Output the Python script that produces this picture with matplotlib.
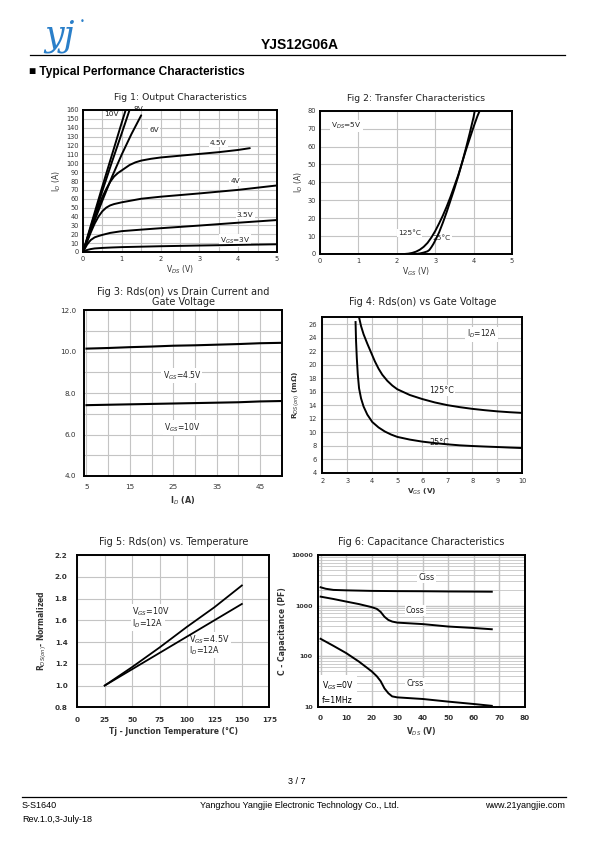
import matplotlib
matplotlib.use('Agg')
import matplotlib.pyplot as plt
import numpy as np

# ---------------- data ----------------
# Fig 1: output characteristics (VDS [V], ID [A])
f1_10v_x = [0, 0.25, 0.5, 0.75, 1.0, 1.1]
f1_10v_y = [0, 37, 74, 110, 146, 160]
f1_8v_x = [0, 0.25, 0.5, 0.75, 1.0, 1.2]
f1_8v_y = [0, 35, 69, 102, 134, 160]
f1_6v_x = [0, 0.25, 0.5, 0.75, 1.0, 1.25, 1.5]
f1_6v_y = [0, 30, 58, 85, 110, 133, 154]
f1_45v_x = [0, 0.1, 0.2, 0.3, 0.4, 0.5, 0.6, 0.7, 0.8, 0.9, 1.0, 1.1, 1.2, 1.35, 1.5, 1.75, 2, 2.5, 3, 3.5, 4, 4.3]
f1_45v_y = [0, 13, 26, 39, 51, 62, 71, 79, 85, 89, 92, 95, 98, 101, 103, 105, 106.5, 108.5, 110.5, 112.5, 115, 117]
f1_4v_x = [0, 0.1, 0.2, 0.3, 0.4, 0.5, 0.6, 0.7, 0.8, 1.0, 1.25, 1.5, 2, 3, 4, 5]
f1_4v_y = [0, 11, 22, 32, 40, 46, 50, 52.5, 54, 56, 58, 60, 62.3, 66, 70, 75]
f1_35v_x = [0, 0.05, 0.1, 0.15, 0.2, 0.3, 0.4, 0.5, 0.7, 1.0, 1.5, 2, 3, 4, 5]
f1_35v_y = [0, 4, 8, 11, 13.5, 16.5, 18, 19.3, 21.5, 23.5, 25.2, 26.8, 29.8, 33, 36]
f1_3v_x = [0, 0.05, 0.1, 0.2, 0.3, 0.5, 0.75, 1, 1.5, 2, 3, 4, 5]
f1_3v_y = [0, 1.2, 2.2, 3.3, 4, 4.6, 5.1, 5.5, 6, 6.5, 7.3, 8, 8.7]

# Fig 2: transfer characteristics (VGS [V], ID [A])
f2_125_x = [0.25, 2.2, 2.3, 2.4, 2.5, 2.6, 2.7, 2.8, 2.9, 3.0, 3.1, 3.2, 3.3, 3.4, 3.5, 3.6, 3.7, 3.8, 3.9, 4.0, 4.1, 4.16]
f2_125_y = [0, 0, 0.2, 0.6, 1.3, 2.4, 4, 6.2, 9.2, 12.8, 17, 21.5, 26.5, 32, 38, 44, 51, 58, 64.5, 71, 77, 80]
f2_25_x = [0.25, 2.5, 2.6, 2.7, 2.8, 2.85, 2.9, 2.95, 3.0, 3.1, 3.2, 3.3, 3.4, 3.5, 3.6, 3.7, 3.8, 3.9, 4.0, 4.03]
f2_25_y = [0, 0, 0.3, 0.8, 1.5, 2.3, 3.8, 5.5, 7.5, 12, 17.5, 23.5, 30, 36.5, 43.5, 51, 59, 67.5, 76.5, 80]

# Fig 3: Rds(on) vs ID (ID [A], mOhm)
f3_id = [5, 10, 15, 20, 25, 30, 35, 40, 45, 50]
f3_45v = [10.15, 10.18, 10.22, 10.25, 10.29, 10.31, 10.34, 10.37, 10.41, 10.43]
f3_10v = [7.42, 7.44, 7.46, 7.48, 7.50, 7.52, 7.54, 7.56, 7.60, 7.62]

# Fig 4: Rds(on) vs VGS (VGS [V], mOhm)
f4_125_x = [3.47, 3.55, 3.65, 3.8, 3.95, 4.1, 4.25, 4.4, 4.6, 4.8, 5.0, 5.5, 6.0, 6.5, 7.0, 7.5, 8.0, 8.5, 9.0, 9.5, 10]
f4_125_y = [27, 25.7, 24.5, 23.1, 21.8, 20.5, 19.4, 18.5, 17.6, 16.9, 16.35, 15.5, 14.9, 14.4, 14.0, 13.7, 13.45, 13.25, 13.08, 12.95, 12.85]
f4_25_x = [3.33, 3.35, 3.38, 3.42, 3.47, 3.55, 3.65, 3.8, 4.0, 4.25, 4.5, 4.75, 5.0, 5.5, 6.0, 6.5, 7.0, 7.5, 8.0, 8.5, 9.0, 9.5, 10]
f4_25_y = [26.3, 23.5, 21, 18.5, 16.5, 15.0, 13.8, 12.6, 11.5, 10.7, 10.1, 9.65, 9.3, 8.9, 8.6, 8.38, 8.2, 8.05, 7.95, 7.87, 7.8, 7.72, 7.65]

# Fig 5: normalized Rds(on) vs Tj
f5_tj = [25, 50, 75, 100, 125, 150]
f5_10v = [1.0, 1.17, 1.35, 1.54, 1.72, 1.92]
f5_45v = [1.0, 1.15, 1.30, 1.45, 1.60, 1.75]

# Fig 6: capacitance vs VDS (pF)
f6_vds_ciss = [0, 2, 5, 10, 20, 30, 40, 50, 60, 67]
f6_ciss = [2300, 2150, 2040, 2000, 1950, 1930, 1920, 1900, 1890, 1880]
f6_vds_coss = [0, 5, 10, 15, 20, 22, 23.5, 25, 26.5, 28, 30, 40, 50, 60, 67]
f6_coss = [1500, 1350, 1200, 1070, 930, 860, 750, 600, 520, 483, 460, 430, 385, 360, 340]
f6_vds_crss = [0, 5, 10, 15, 20, 22, 23.5, 25, 26.5, 28, 30, 40, 50, 60, 67]
f6_crss = [220, 160, 115, 78, 50, 40, 32, 23, 18.5, 16, 15.3, 14.2, 12.6, 11.3, 10.4]

# ---------------- figure ----------------
W, H = 595, 842
fig = plt.figure(figsize=(W / 100, H / 100), dpi=100)
plt.rcParams['font.family'] = ['DejaVu Sans']
plt.rcParams['mathtext.fontset'] = 'dejavusans'

GRID = '#c4c4c4'
TXT = '#333333'


def ax_at(l, t, r, b):
    a = fig.add_axes([l / W, 1 - b / H, (r - l) / W, (b - t) / H])
    for s in a.spines.values():
        s.set_linewidth(1.4)
        s.set_color('black')
    a.tick_params(length=0, pad=3, colors=TXT)
    a.set_axisbelow(True)
    return a


def lbl(a, x, y, s, fs=5.5, ha='center', bg=True, **kw):
    bb = dict(facecolor='white', edgecolor='none', pad=0.8) if bg else None
    a.text(x, y, s, fontsize=fs, ha=ha, va='center', color='#222222', bbox=bb,
           zorder=1.5, **kw)


def ftext(x, y, s, **kw):
    fig.text(x / W, 1 - y / H, s, **kw)

# ---- header ----
ftext(44, 36, 'yj', fontsize=25, color='#2a7fc9', family='DejaVu Serif',
      style='italic', va='center')
ftext(80, 21, '•', fontsize=6, color='#2a7fc9', va='center')
ftext(300, 45, 'YJS12G06A', fontsize=10, weight='bold', family='Liberation Sans', ha='center', va='center')
fig.add_artist(plt.Line2D([30 / W, 565 / W], [1 - 55 / H, 1 - 55 / H], color='black', lw=0.9))
ftext(29, 72, '■ Typical Performance Characteristics', fontsize=8.6, weight='bold',
      family='Liberation Sans', va='center')

# ---- footer ----
ftext(297, 781, '3 / 7', fontsize=6.5, family='Liberation Sans', ha='center', va='center')
fig.add_artist(plt.Line2D([22 / W, 566 / W], [1 - 797 / H, 1 - 797 / H], color='black', lw=0.9))
ftext(22, 806, 'S-S1640', fontsize=6.5, family='Liberation Sans', va='center')
ftext(22, 819, 'Rev.1.0,3-July-18', fontsize=6.5, family='Liberation Sans', va='center')
ftext(300, 806, 'Yangzhou Yangjie Electronic Technology Co., Ltd.', fontsize=6.5,
      family='Liberation Sans', ha='center', va='center')
ftext(565, 806, 'www.21yangjie.com', fontsize=6.5, family='Liberation Sans', ha='right', va='center')

# ---- Fig 1 ----
a1 = ax_at(83, 110, 277, 252)
for xs, ys in [(f1_10v_x, f1_10v_y), (f1_8v_x, f1_8v_y), (f1_6v_x, f1_6v_y),
               (f1_45v_x, f1_45v_y), (f1_4v_x, f1_4v_y), (f1_35v_x, f1_35v_y), (f1_3v_x, f1_3v_y)]:
    a1.plot(xs, ys, color='black', lw=1.4, solid_capstyle='round')
a1.set_xlim(0, 5)
a1.set_ylim(0, 160)
a1.set_xticks(range(0, 6))
a1.set_yticks(range(0, 161, 10))
a1.set_xticks(np.arange(0, 5.01, 0.5), minor=True)
a1.grid(True, which='both', color=GRID, lw=0.8)
a1.tick_params(labelsize=4.8)
a1.tick_params(which='minor', length=0)
a1.set_xlabel('V$_{DS}$ (V)', fontsize=5.5, labelpad=1, color=TXT)
a1.set_ylabel('I$_{D}$ (A)', fontsize=5.5, labelpad=2, color=TXT)
a1.set_title('Fig 1: Output Characteristics', fontsize=6.7, pad=7, color='#222222')
lbl(a1, 0.73, 155, '10V', fs=5.3)
lbl(a1, 1.42, 161, '8V', fs=5.3, bg=False, clip_on=False)
lbl(a1, 1.84, 137.5, '6V', fs=5.3)
lbl(a1, 3.49, 122.5, '4.5V', fs=5.3)
lbl(a1, 3.92, 79.5, '4V', fs=5.3)
lbl(a1, 4.18, 42, '3.5V', fs=5.3)
lbl(a1, 3.92, 13, 'V$_{GS}$=3V', fs=5.3)

# ---- Fig 2 ----
a2 = ax_at(320, 110.7, 512, 254)
a2.plot(f2_125_x, f2_125_y, color='black', lw=1.4)
a2.plot(f2_25_x, f2_25_y, color='black', lw=1.4)
a2.set_xlim(0, 5)
a2.set_ylim(0, 80)
a2.set_xticks(range(0, 6))
a2.set_yticks(range(0, 81, 10))
a2.grid(True, color=GRID, lw=0.8)
a2.tick_params(labelsize=4.8)
a2.set_xlabel('V$_{GS}$ (V)', fontsize=5.5, labelpad=1, color=TXT)
a2.set_ylabel('I$_{D}$ (A)', fontsize=5.5, labelpad=2, color=TXT)
a2.set_title('Fig 2: Transfer Characteristics', fontsize=6.7, pad=7, color='#222222')
lbl(a2, 0.69, 71.3, 'V$_{DS}$=5V', fs=5.3)
lbl(a2, 2.34, 11.7, '125°C', fs=5.3)
lbl(a2, 3.16, 8.9, '25°C', fs=5.3)

# ---- Fig 3 ----
a3 = ax_at(84.3, 310.3, 281.7, 476)
a3.plot(f3_id, f3_45v, color='black', lw=1.5)
a3.plot(f3_id, f3_10v, color='black', lw=1.5)
a3.set_xlim(4.5, 50)
a3.set_ylim(4, 12)
a3.set_xticks([5, 15, 25, 35, 45])
a3.set_xticks(range(10, 50, 10), minor=True)
a3.set_yticks([4, 6, 8, 10, 12])
a3.set_yticklabels(['4.0', '6.0', '8.0', '10.0', '12.0'])
a3.set_yticks(range(5, 12, 2), minor=True)
a3.grid(True, which='both', color=GRID, lw=0.8)
a3.tick_params(labelsize=5.2, pad=6)
a3.tick_params(which='minor', length=0)
a3.set_xlabel('I$_{D}$ (A)', fontsize=5.8, labelpad=3, color=TXT, weight='bold')
a3.set_title('Fig 3: Rds(on) vs Drain Current and\nGate Voltage', fontsize=7, pad=4,
             color='#222222', linespacing=1.0)
lbl(a3, 27, 8.86, 'V$_{GS}$=4.5V', fs=5.5)
lbl(a3, 27, 6.33, 'V$_{GS}$=10V', fs=5.5)

# ---- Fig 4 ----
a4 = ax_at(322.3, 317.3, 522.3, 472.7)
a4.plot(f4_125_x, f4_125_y, color='black', lw=1.4)
a4.plot(f4_25_x, f4_25_y, color='black', lw=1.4)
a4.set_xlim(2, 10)
a4.set_ylim(4, 27)
a4.set_xticks(range(2, 11))
a4.set_yticks(range(4, 27, 2))
a4.grid(True, color=GRID, lw=0.8)
a4.tick_params(labelsize=4.8, pad=4)
a4.set_xlabel('V$_{GS}$ (V)', fontsize=5.3, labelpad=2, color=TXT, weight='bold')
a4.set_ylabel('R$_{DS(on)}$ (mΩ)', fontsize=5.3, labelpad=5, color=TXT, weight='bold')
a4.set_title('Fig 4: Rds(on) vs Gate Voltage', fontsize=7, pad=9, color='#222222')
lbl(a4, 8.37, 24.5, 'I$_{D}$=12A', fs=5.5)
lbl(a4, 6.77, 16.2, '125°C', fs=5.8)
lbl(a4, 6.7, 8.45, '25°C', fs=5.8, bg=False)

# ---- Fig 5 ----
a5 = ax_at(77.3, 555, 269.3, 707.3)
a5.plot(f5_tj, f5_10v, color='black', lw=1.3)
a5.plot(f5_tj, f5_45v, color='black', lw=1.3)
a5.set_xlim(0, 175)
a5.set_ylim(0.8, 2.2)
a5.set_xticks(range(0, 176, 25))
a5.set_yticks(np.arange(0.8, 2.21, 0.2))
a5.set_yticklabels([f'{v:.1f}' for v in np.arange(0.8, 2.21, 0.2)])
a5.grid(True, color=GRID, lw=0.8)
for t in a5.get_xticklabels() + a5.get_yticklabels():
    t.set_fontweight('bold')
a5.tick_params(labelsize=5.2, pad=7)
a5.set_xlabel('Tj - Junction Temperature (°C)', fontsize=5.5, labelpad=3, color=TXT, weight='bold')
a5.set_ylabel('R$_{DS(on)}$- Normalized', fontsize=5.5, labelpad=4, color=TXT, weight='bold')
a5.set_title('Fig 5: Rds(on) vs. Temperature', fontsize=7, pad=7, color='#222222')
lbl(a5, 50, 1.68, 'V$_{GS}$=10V', fs=5.8, ha='left')
lbl(a5, 50, 1.57, 'I$_{D}$=12A', fs=5.8, ha='left')
lbl(a5, 102, 1.425, 'V$_{GS}$=4.5V', fs=5.8, ha='left')
lbl(a5, 102, 1.32, 'I$_{D}$=12A', fs=5.8, ha='left')

# ---- Fig 6 ----
a6 = ax_at(318.3, 555, 525, 706.7)
a6.plot(f6_vds_ciss, f6_ciss, color='black', lw=1.4)
a6.plot(f6_vds_coss, f6_coss, color='black', lw=1.4)
a6.plot(f6_vds_crss, f6_crss, color='black', lw=1.4)
a6.set_yscale('log')
a6.set_xlim(-0.9, 80)
a6.set_ylim(10, 10000)
a6.set_xticks(range(0, 81, 10))
a6.set_yticks([10, 100, 1000, 10000])
a6.set_yticklabels(['10', '100', '1000', '10000'])
a6.grid(True, which='major', color=GRID, lw=1.0)
a6.grid(True, which='minor', axis='y', color=GRID, lw=0.6)
a6.tick_params(which='both', length=0)
for t in a6.get_xticklabels() + a6.get_yticklabels():
    t.set_fontweight('bold')
a6.tick_params(axis='x', labelsize=5.2, pad=6)
a6.tick_params(axis='y', labelsize=4.6, pad=4)
a6.set_xlabel('V$_{DS}$ (V)', fontsize=5.5, labelpad=3, color=TXT, weight='bold')
a6.set_ylabel('C - Capacitance (PF)', fontsize=5.5, labelpad=3, color=TXT, weight='bold')
a6.set_title('Fig 6: Capacitance Characteristics', fontsize=7, pad=7, color='#222222')
lbl(a6, 41.5, 3570, 'Ciss', fs=5.8)
lbl(a6, 37, 800, 'Coss', fs=5.8)
lbl(a6, 37, 29, 'Crss', fs=5.8)
a6.text(0.5, 19.5, 'V$_{GS}$=0V\nf=1MHz', fontsize=5.6, ha='left', va='center', linespacing=1.5,
        bbox=dict(facecolor='white', edgecolor='none', pad=2.5), zorder=1.5)

fig.savefig('out.png', dpi=100)
